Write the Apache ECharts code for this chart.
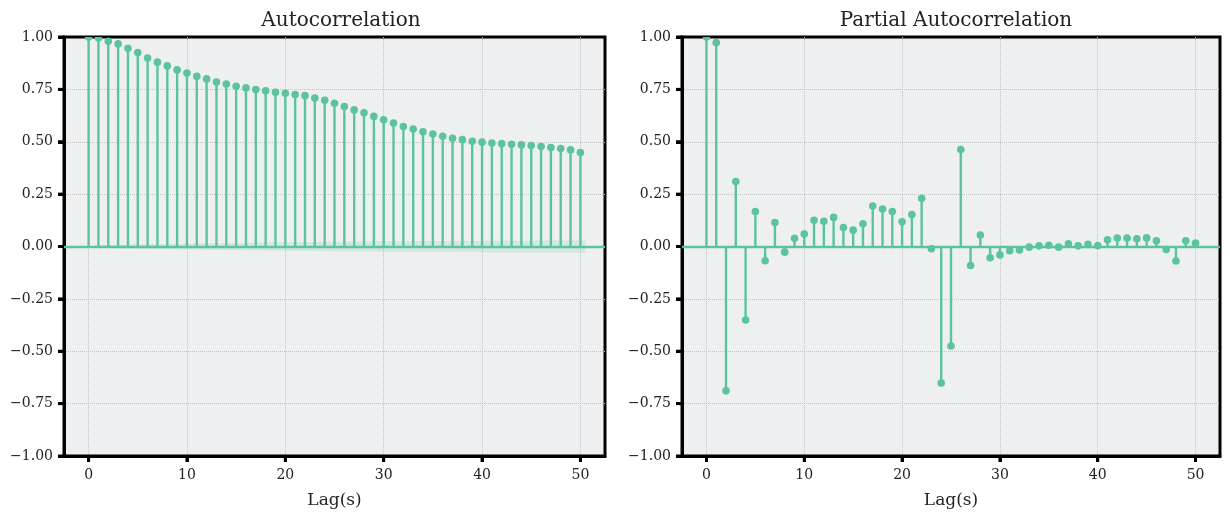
<!DOCTYPE html>
<html>
<head>
<meta charset="utf-8">
<script src="https://cdn.jsdelivr.net/npm/echarts@6/dist/echarts.min.js"></script>
<style>
  html, body { margin: 0; padding: 0; background: #fff; }
  #chart { width: 1230px; height: 514px; }
</style>
</head>
<body>
<div id="chart"></div>
<script>
// lags 0..50
const lags = Array.from({ length: 51 }, (_, i) => i)

const acfValues = [
  1.0, 0.995, 0.98, 0.967, 0.946, 0.926, 0.90, 0.88, 0.862, 0.843,
  0.828, 0.812, 0.80, 0.785, 0.776, 0.765, 0.757, 0.749, 0.743, 0.736,
  0.731, 0.725, 0.72, 0.709, 0.698, 0.684, 0.668, 0.652, 0.638, 0.621,
  0.605, 0.589, 0.573, 0.561, 0.548, 0.537, 0.526, 0.517, 0.51, 0.502,
  0.498, 0.494, 0.491, 0.488, 0.485, 0.482, 0.477, 0.472, 0.468, 0.461,
  0.449
]

const pacfValues = [
  1.0, 0.973, -0.689, 0.31, -0.351, 0.167, -0.068, 0.114, -0.027, 0.039,
  0.06, 0.125, 0.12, 0.139, 0.091, 0.078, 0.108, 0.193, 0.179, 0.167,
  0.118, 0.153, 0.23, -0.011, -0.652, -0.475, 0.463, -0.091, 0.055, -0.054,
  -0.04, -0.02, -0.017, -0.003, 0.003, 0.006, -0.003, 0.013, 0.003, 0.01,
  0.004, 0.032, 0.04, 0.04, 0.037, 0.041, 0.027, -0.014, -0.069, 0.027,
  0.016
]

// confidence band of the ACF (half width at a few lags)
const bandLags = [0.5, 10, 20, 30, 40, 50.5]
const bandHalf = [0.006, 0.014, 0.02, 0.025, 0.028, 0.03]

const xTicks = [0, 10, 20, 30, 40, 50]
const yTicks = [-1, -0.75, -0.5, -0.25, 0, 0.25, 0.5, 0.75, 1]
const titles = ['Autocorrelation', 'Partial Autocorrelation']

const stemColor = '#5cc49d'
const serif = 'DejaVu Serif'
const xMin = -2.5, xMax = 52.5

function stemSeries(values, idx) {
  return {
    type: 'custom',
    xAxisIndex: idx,
    yAxisIndex: idx,
    clip: true,
    z: 3,
    data: lags.map((l, i) => [l, values[i]]),
    renderItem(params, api) {
      const x = api.value(0), y = api.value(1)
      const p0 = api.coord([x, 0]), p1 = api.coord([x, y])
      return {
        type: 'group',
        children: [
          { type: 'line', shape: { x1: p0[0], y1: p0[1], x2: p1[0], y2: p1[1] },
            style: { stroke: stemColor, lineWidth: 2.4 } },
          { type: 'circle', shape: { cx: p1[0], cy: p1[1], r: 3.8 },
            style: { fill: stemColor } }
        ]
      }
    },
    markLine: {
      silent: true,
      symbol: 'none',
      label: { show: false },
      lineStyle: { color: stemColor, width: 2.4, type: 'solid' },
      data: [{ yAxis: 0 }]
    }
  }
}

function bandSeries(sign) {
  return {
    type: 'line',
    xAxisIndex: 0,
    yAxisIndex: 0,
    symbol: 'none',
    z: 1,
    lineStyle: { width: 0 },
    areaStyle: { color: 'rgba(92,196,157,0.25)', origin: 0 },
    data: bandLags.map((l, i) => [l, sign * bandHalf[i]])
  }
}

const grids = [
  { left: 64, top: 37, width: 541, height: 422 },
  { left: 682, top: 37, width: 538, height: 422 }
].map(g => Object.assign(g, {
  show: true,
  backgroundColor: '#eeeff1',
  borderColor: '#000',
  borderWidth: 3
}))

function axisLine() {
  return { show: true, onZero: false, lineStyle: { color: '#000', width: 3 } }
}
function gridLine(extra) {
  return Object.assign({ show: true, lineStyle: { color: '#c4c4c4', type: 'dotted', width: 1 } }, extra)
}

const xAxes = [0, 1].map(i => ({
  type: 'value',
  gridIndex: i,
  min: xMin,
  max: xMax,
  axisLine: axisLine(),
  axisTick: { show: true, customValues: xTicks, length: 6, lineStyle: { color: '#000', width: 3 } },
  axisLabel: {
    customValues: xTicks,
    fontFamily: serif, fontSize: 14, color: '#222', margin: 12
  },
  splitLine: gridLine(),
  name: 'Lag(s)',
  nameLocation: 'middle',
  nameGap: 36,
  nameTextStyle: { fontFamily: serif, fontSize: 17, color: '#222' }
}))

const yAxes = [0, 1].map(i => ({
  type: 'value',
  gridIndex: i,
  min: -1,
  max: 1,
  interval: 0.25,
  axisLine: axisLine(),
  axisTick: { show: true, length: 6, lineStyle: { color: '#000', width: 3 } },
  axisLabel: {
    fontFamily: serif, fontSize: 14, color: '#222', margin: 11,
    formatter: v => (v < 0 ? '\u2212' : '') + Math.abs(v).toFixed(2)
  },
  splitLine: gridLine({ showMinLine: false, showMaxLine: false })
}))

const option = {
  animation: false,
  backgroundColor: '#fff',
  title: titles.map((t, i) => ({
    text: t,
    left: i === 0 ? 336 : 951,
    top: 6,
    textAlign: 'center',
    textStyle: { fontFamily: serif, fontSize: 20, fontWeight: 'normal', color: '#222' }
  })),
  grid: grids,
  xAxis: xAxes,
  yAxis: yAxes,
  series: [
    bandSeries(1),
    bandSeries(-1),
    stemSeries(acfValues, 0),
    stemSeries(pacfValues, 1)
  ]
}

const chart = echarts.init(document.getElementById('chart'))
chart.setOption(option)

// outward tick marks, placed through the axes' own scales
const tickLen = 6
const tickMarks = []
;[0, 1].forEach(i => {
  const yBottom = chart.convertToPixel({ yAxisIndex: i }, -1)
  const xLeft = chart.convertToPixel({ xAxisIndex: i }, xMin)
  xTicks.forEach(v => {
    const px = chart.convertToPixel({ xAxisIndex: i }, v)
    tickMarks.push({
      type: 'line', z: 10, silent: true,
      shape: { x1: px, y1: yBottom, x2: px, y2: yBottom + tickLen },
      style: { stroke: '#000', lineWidth: 3 }
    })
  })
  yTicks.forEach(v => {
    const py = chart.convertToPixel({ yAxisIndex: i }, v)
    tickMarks.push({
      type: 'line', z: 10, silent: true,
      shape: { x1: xLeft - tickLen, y1: py, x2: xLeft, y2: py },
      style: { stroke: '#000', lineWidth: 3 }
    })
  })
})
chart.setOption({ graphic: tickMarks })
</script>
</body>
</html>
